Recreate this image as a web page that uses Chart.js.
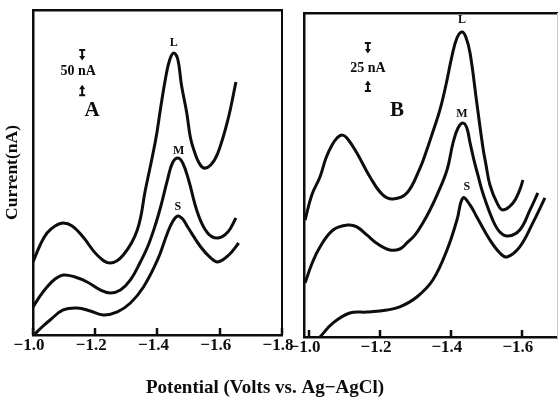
<!DOCTYPE html>
<html><head><meta charset="utf-8">
<script src="https://cdn.jsdelivr.net/npm/chart.js@4.4.1/dist/chart.umd.min.js"></script>
<style>
html,body{margin:0;padding:0;background:#fff;width:559px;height:404px;overflow:hidden;}
#ca{position:absolute;left:0;top:0;}
#cb{position:absolute;left:290px;top:0;}
</style></head><body>
<canvas id="ca" width="530" height="404"></canvas>
<canvas id="cb" width="269" height="404"></canvas>
<script>
// ---------- data (potential in V vs Ag-AgCl, current in nA) ----------
const seriesNames = ['L', 'M', 'S'];
const tickValuesA = [-1.0, -1.2, -1.4, -1.6, -1.8];
const tickValuesB = [-1.0, -1.2, -1.4, -1.6];

// Panel A
const potA_L = [-1.000,-1.023,-1.045,-1.071,-1.097,-1.126,-1.161,-1.206,-1.248,-1.290,-1.335,-1.361,-1.394,-1.410,-1.426,-1.439,-1.452,-1.465,-1.477,-1.494,-1.506,-1.519,-1.532,-1.548,-1.571,-1.594,-1.626,-1.652];
const curA_L = [91.3,112.5,127.5,136.3,140,136.3,122.5,100,90,100,131.3,181.3,243.8,283.8,321.3,343.8,352.5,345,312.5,277.5,246.3,228.8,216.3,208.8,212.5,227.5,268.8,316.3];
const potA_M = [-1.000,-1.023,-1.045,-1.071,-1.097,-1.135,-1.174,-1.216,-1.248,-1.281,-1.313,-1.345,-1.368,-1.390,-1.410,-1.432,-1.448,-1.465,-1.481,-1.500,-1.529,-1.561,-1.594,-1.626,-1.652];
const curA_M = [35,48.8,60,70,75,72.5,66.3,56.3,52.5,56.3,68.8,91.3,110,133.8,160,193.8,215,221.3,215,193.8,152.5,127.5,121.3,128.8,146.3];
const potA_S = [-1.006,-1.029,-1.055,-1.097,-1.142,-1.184,-1.226,-1.271,-1.313,-1.355,-1.400,-1.432,-1.448,-1.465,-1.481,-1.497,-1.539,-1.571,-1.594,-1.629,-1.661];
const curA_S = [1.3,10,18.8,31.3,33.8,30,25,28.8,40,60,93.8,127.5,141.3,148.8,145,135,110,96.3,91.3,100,115];

// Panel B
const potB_L = [-0.989,-1.008,-1.031,-1.048,-1.065,-1.079,-1.093,-1.107,-1.135,-1.172,-1.208,-1.237,-1.276,-1.313,-1.332,-1.349,-1.369,-1.386,-1.403,-1.417,-1.431,-1.442,-1.454,-1.473,-1.490,-1.499,-1.510,-1.530,-1.546,-1.575,-1.594,-1.603];
const curB_L = [73.1,88.8,100,111.9,120,124.4,126.3,124.4,115,100,88.8,86.3,90,105.6,116.9,128.1,141.9,157.5,175.6,186.9,190.6,187.5,177.5,146.3,118.8,107.5,95,83.8,79.4,83.8,91.9,98.1];
const potB_M = [-0.989,-1.008,-1.031,-1.068,-1.110,-1.135,-1.163,-1.194,-1.228,-1.256,-1.276,-1.299,-1.321,-1.341,-1.361,-1.389,-1.406,-1.420,-1.434,-1.445,-1.454,-1.465,-1.476,-1.490,-1.518,-1.538,-1.561,-1.594,-1.623,-1.645];
const curB_M = [33.8,45.6,56.3,66.9,70,68.8,63.8,58.1,54.4,55,58.8,63.8,71.3,79.4,88.8,104.4,121.3,130.6,133.8,130.6,121.3,110.6,101.3,90,73.1,65.6,63.1,66.9,79.4,90];
const potB_S = [-1.031,-1.068,-1.115,-1.163,-1.220,-1.256,-1.304,-1.349,-1.389,-1.417,-1.434,-1.454,-1.473,-1.510,-1.538,-1.558,-1.594,-1.631,-1.665];
const curB_S = [0,8.8,15,15.6,16.9,18.8,25,35.6,54.4,73.1,86.9,82.5,75,60.6,52.5,50,56.3,71.3,86.9];

const xTitle = 'Potential (Volts vs. Ag\u2212AgCl)';
const yTitle = 'Current(nA)';
// ---------------------------------------------------------------------

const INK = '#0d0d0d';
const FAM = '"Liberation Serif", "Times New Roman", serif';
Chart.defaults.font.family = FAM;

function toPts(xs, ys) { return xs.map((v, i) => ({x: v, y: ys[i]})); }
function sets(pairs) {
  return pairs.map((p, i) => ({label: seriesNames[i], data: toPts(p[0], p[1]),
    borderColor: INK, borderWidth: 3, pointRadius: 0, fill: false, tension: 0.4}));
}
function fmt(v) { return (v < 0 ? '\u2212' : '') + Math.abs(v).toFixed(1); }

const annotPlugin = {
  id: 'annot',
  afterDraw(chart, args, opts) {
    const {ctx, chartArea} = chart, x = chart.scales.x, y = chart.scales.y;
    ctx.save();
    ctx.fillStyle = INK; ctx.strokeStyle = INK;
    // small inward tick marks on the potential axis
    ctx.lineWidth = 2.5;
    tickVals(chart).forEach(v => {
      const px = Math.round(x.getPixelForValue(v));
      ctx.beginPath(); ctx.moveTo(px, chartArea.bottom); ctx.lineTo(px, chartArea.bottom - 7); ctx.stroke();
    });
    ctx.textAlign = 'center'; ctx.textBaseline = 'middle';
    (opts.texts || []).forEach(t => {
      ctx.font = 'bold ' + t.size + 'px ' + FAM;
      ctx.fillText(t.text, x.getPixelForValue(t.x), y.getPixelForValue(t.y));
    });
    (opts.markers || []).forEach(m => {
      const cx = x.getPixelForValue(m.x), cy = y.getPixelForValue(m.y), d = m.dir;
      ctx.lineWidth = 2;
      ctx.beginPath();
      ctx.moveTo(cx - 3, cy - 5 * d); ctx.lineTo(cx + 3, cy - 5 * d);
      ctx.moveTo(cx, cy - 5 * d); ctx.lineTo(cx, cy + 2 * d);
      ctx.stroke();
      ctx.beginPath();
      ctx.moveTo(cx - 3, cy + 1 * d); ctx.lineTo(cx + 3, cy + 1 * d); ctx.lineTo(cx, cy + 5.5 * d);
      ctx.closePath(); ctx.fill();
    });
    ctx.restore();
  }
};
function tickVals(chart) { return chart.canvas.id === 'ca' ? tickValuesA : tickValuesB; }

function xAxis(min, max, ticksArr, h) {
  return {
    type: 'linear', position: 'bottom', reverse: true, min: min, max: max,
    afterBuildTicks: s => { s.ticks = ticksArr.map(v => ({value: v})); },
    ticks: {callback: fmt, autoSkip: false, maxRotation: 0, color: INK, padding: 0, labelOffset: -4,
      font: {size: 17, weight: 'bold', family: FAM}},
    grid: {display: false, drawOnChartArea: false, drawTicks: false},
    border: {display: true, color: INK, width: 2.5},
    afterFit: s => { s.height = h; }
  };
}
function frameAxis(axis, pos, size, color, width) {
  return {
    type: 'linear', axis: axis, position: pos, min: 0, max: 1,
    ticks: {display: false}, grid: {display: false, drawTicks: false},
    border: {display: true, color: color, width: width},
    afterFit: s => { if (axis === 'x') s.height = size; else s.width = size; }
  };
}

new Chart(document.getElementById('ca'), {
  type: 'line',
  data: {datasets: sets([[potA_L, curA_L], [potA_M, curA_M], [potA_S, curA_S]])},
  options: {
    responsive: false, animation: false, layout: {padding: 0},
    plugins: {
      legend: {display: false}, tooltip: {enabled: false},
      title: {display: true, text: xTitle, position: 'bottom', color: INK,
        font: {size: 19, weight: 'bold', family: FAM}, padding: {top: 4, bottom: 4.5}},
      annot: {
        texts: [
          {text: 'L', x: -1.452, y: 365, size: 12},
          {text: 'M', x: -1.468, y: 230, size: 12},
          {text: 'S', x: -1.465, y: 160, size: 12},
          {text: '50 nA', x: -1.145, y: 330, size: 14},
          {text: 'A', x: -1.190, y: 281, size: 21}
        ],
        markers: [{x: -1.158, y: 350, dir: 1}, {x: -1.158, y: 306, dir: -1}]
      }
    },
    scales: {
      x: xAxis(-1.8, -1.0, tickValuesA, 37.7),
      xt: frameAxis('x', 'top', 10, INK, 2.5),
      y: {type: 'linear', position: 'left', min: 0, max: 406.25,
        ticks: {display: false}, grid: {display: false, drawTicks: false},
        border: {display: true, color: INK, width: 2.5},
        title: {display: true, text: yTitle, color: INK, font: {size: 17.5, weight: 'bold', family: FAM}, padding: {top: 2, bottom: 0}},
        afterFit: s => { s.width = 33; }},
      yr: frameAxis('y', 'right', 248, INK, 2)
    }
  },
  plugins: [annotPlugin]
});

new Chart(document.getElementById('cb'), {
  type: 'line',
  data: {datasets: sets([[potB_L, curB_L], [potB_M, curB_M], [potB_S, curB_S]])},
  options: {
    responsive: false, animation: false, layout: {padding: 0},
    plugins: {
      legend: {display: false}, tooltip: {enabled: false}, title: {display: false},
      annot: {
        texts: [
          {text: 'L', x: -1.431, y: 198, size: 12},
          {text: 'M', x: -1.431, y: 139.4, size: 12},
          {text: 'S', x: -1.445, y: 93.8, size: 12},
          {text: '25 nA', x: -1.166, y: 168.1, size: 14},
          {text: 'B', x: -1.248, y: 141.3, size: 21}
        ],
        markers: [{x: -1.166, y: 180.6, dir: 1}, {x: -1.166, y: 156.9, dir: -1}]
      }
    },
    scales: {
      x: xAxis(-1.699, -0.986, tickValuesB, 67),
      xt: frameAxis('x', 'top', 13, INK, 2.5),
      y: {type: 'linear', position: 'left', min: 0, max: 202.5,
        ticks: {display: false}, grid: {display: false, drawTicks: false},
        border: {display: true, color: INK, width: 2.5},
        afterFit: s => { s.width = 14; }},
      yr: frameAxis('y', 'right', 2, '#c8c8c8', 1)
    }
  },
  plugins: [annotPlugin]
});
</script>
</body></html>
